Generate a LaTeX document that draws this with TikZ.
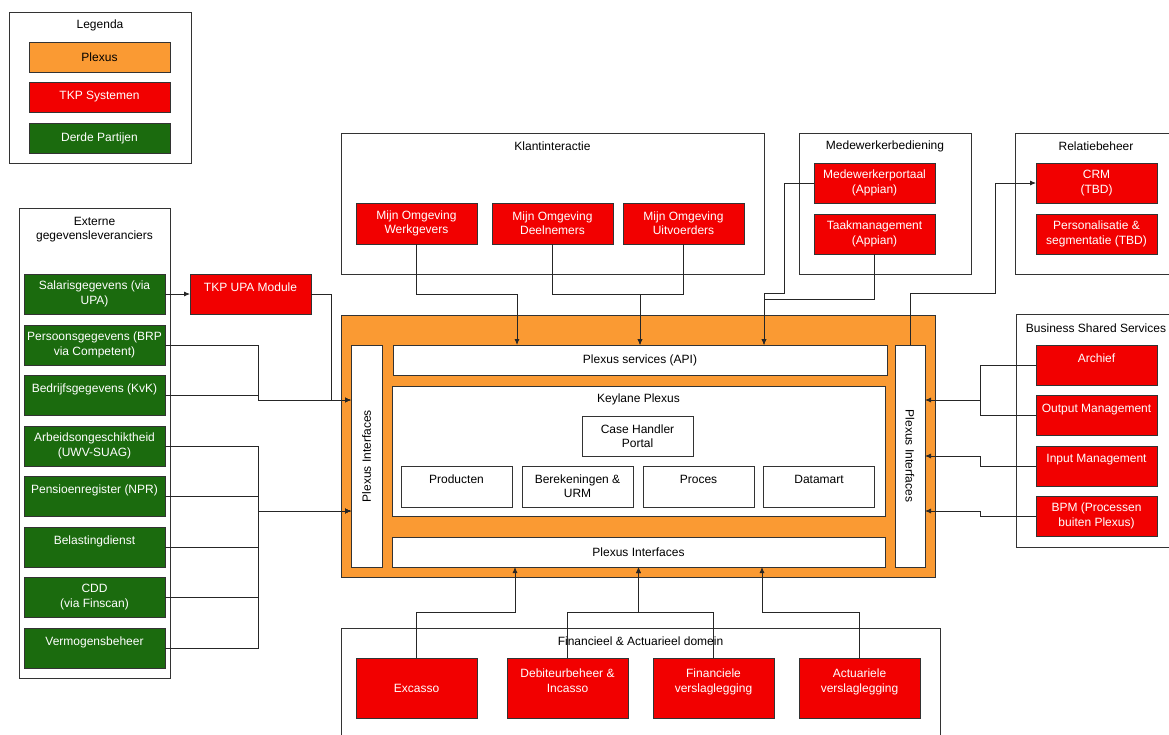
\documentclass[tikz,border=0pt]{standalone}
\usepackage{graphicx}
\usepackage{fontspec}
\setmainfont{Liberation Sans}
\usetikzlibrary{arrows.meta}
\definecolor{oranje}{HTML}{FA9A33}
\definecolor{rood}{HTML}{F20000}
\definecolor{groen}{HTML}{1B6B0E}
\definecolor{rand}{HTML}{333333}

\begin{document}
\begin{tikzpicture}[x=1pt,y=-1pt]
\tikzstyle{lijn}=[->,>={Latex[length=6pt,width=5pt]},draw=black!85,line width=0.8pt]
\tikzset{blok/.style={draw=rand,line width=0.8pt,fill=#1,inner sep=0pt,outer sep=0pt,align=center,font=\fontsize{12}{14.4}\selectfont},
blok/.default={white},
rblok/.style={blok=rood,text=white,minimum width=121pt,minimum height=40pt},
gblok/.style={blok=groen,text=white,minimum width=141pt,minimum height=40pt},
kblok/.style={blok,minimum width=111pt,minimum height=41pt},
groep/.style={draw=rand,line width=0.8pt,fill=white,inner sep=0pt,outer sep=0pt},
titel/.style={font=\fontsize{12}{14.4}\selectfont,align=center,inner sep=0pt}}
\useasboundingbox (0,0) rectangle (1169,734);
\clip (0,0) rectangle (1169,734);
\fill[white] (0,0) rectangle (1169,734);

% legenda
\node[groep,minimum width=182pt,minimum height=151pt] (legenda) at (100,87.5) {};
\node[titel] (legenda-t) at (100,25) {Legenda};
\node[blok=oranje,minimum width=141pt,minimum height=30pt] (leg-plexus) at (99.5,57) {Plexus};
\node[blok=rood,text=white,minimum width=141pt,minimum height=30pt] (leg-tkp) at (99.5,97) {TKP Systemen};
\node[blok=groen,text=white,minimum width=141pt,minimum height=30pt] (leg-derde) at (99.5,138) {Derde Partijen};

% groepen
\node[groep,minimum width=151pt,minimum height=470pt] (extern) at (94.5,443) {};
\node[titel] (extern-t) at (94.5,229.5) {Externe\\gegevensleveranciers};
\node[groep,minimum width=423pt,minimum height=141pt] (klant) at (552.5,203.5) {};
\node[titel] (klant-t) at (552.5,146) {Klantinteractie};
\node[groep,minimum width=172pt,minimum height=141pt] (medewerker) at (885,203.5) {};
\node[titel] (medewerker-t) at (885,146) {Medewerkerbediening};
\node[groep,minimum width=162pt,minimum height=141pt] (relatie) at (1096,203.5) {};
\node[titel] (relatie-t) at (1096,146) {Relatiebeheer};
\node[groep,minimum width=161pt,minimum height=233pt] (bss) at (1096.5,430.5) {};
\node[titel] (bss-t) at (1096,328) {Business Shared Services};
\node[groep,minimum width=599pt,minimum height=122pt] (financieel) at (640.5,689) {};
\node[titel] (financieel-t) at (640.5,641) {Financieel \& Actuarieel domein};

% externe partijen
\node[gblok] (salaris) at (94.5,294) {Salarisgegevens (via\\UPA)};
\node[gblok] (persoons) at (94.5,345) {Persoonsgegevens (BRP\\via Competent)};
\node[gblok] (bedrijf) at (94.5,395) {Bedrijfsgegevens (KvK)\\\mbox{}};
\node[gblok] (arbeid) at (94.5,446) {Arbeidsongeschiktheid\\(UWV-SUAG)};
\node[gblok] (pensioen) at (94.5,496) {Pensioenregister (NPR)\\\mbox{}};
\node[gblok] (belasting) at (94.5,547) {Belastingdienst\\\mbox{}};
\node[gblok] (cdd) at (94.5,597) {CDD\\(via Finscan)};
\node[gblok] (vermogen) at (94.5,648) {Vermogensbeheer\\\mbox{}};
\node[rblok] (upa) at (250.5,294) {TKP UPA Module\\\mbox{}};

\node[rblok,minimum height=41pt] (werkgevers) at (416.5,223.5) {Mijn Omgeving\\Werkgevers};
\node[rblok,minimum height=41pt] (deelnemers) at (552.5,223.5) {Mijn Omgeving\\Deelnemers};
\node[rblok,minimum height=41pt] (uitvoerders) at (683.5,223.5) {Mijn Omgeving\\Uitvoerders};
\node[rblok] (mportaal) at (874.5,183) {Medewerkerportaal\\(Appian)};
\node[rblok] (taak) at (874.5,234) {Taakmanagement\\(Appian)};
\node[rblok] (crm) at (1096.5,183) {CRM\\(TBD)};
\node[rblok] (perso) at (1096.5,234) {Personalisatie \&\\segmentatie (TBD)};

% plexus
\node[blok=oranje,minimum width=594pt,minimum height=262pt] (plexus) at (638,446) {};
\node[blok,minimum width=31pt,minimum height=222pt] (lint) at (366.5,456) {\rotatebox{90}{Plexus Interfaces}};
\node[blok,minimum width=30pt,minimum height=222pt] (rint) at (910,456) {\rotatebox{-90}{Plexus Interfaces}};
\node[blok,minimum width=494pt,minimum height=30pt] (api) at (640,360) {Plexus services (API)};
\node[blok,minimum width=493pt,minimum height=130pt] (keylane) at (638.5,451) {};
\node[titel] (keylane-t) at (638.5,399) {Keylane Plexus};
\node[blok,minimum width=111pt,minimum height=40pt] (case) at (637.5,436) {Case Handler\\Portal};
\node[kblok] (producten) at (456.5,486.5) {Producten\\\mbox{}};
\node[kblok] (berekeningen) at (577.5,486.5) {Berekeningen \&\\URM};
\node[kblok] (proces) at (698.5,486.5) {Proces\\\mbox{}};
\node[kblok] (datamart) at (819,486.5) {Datamart\\\mbox{}};
\node[blok,minimum width=493pt,minimum height=30pt] (bint) at (638.5,552) {Plexus Interfaces};

\node[rblok] (archief) at (1096.5,365) {Archief\\\mbox{}};
\node[rblok] (output) at (1096.5,415.5) {Output Management\\\mbox{}};
\node[rblok] (input) at (1096.5,466) {Input Management\\\mbox{}};
\node[rblok] (bpm) at (1096.5,516) {BPM (Processen\\buiten Plexus)};

\node[rblok,minimum height=60pt] (excasso) at (416.5,688) {Excasso};
\node[rblok,minimum height=60pt] (debiteur) at (567.5,688) {Debiteurbeheer \&\\Incasso\\\mbox{}};
\node[rblok,minimum height=60pt] (financiele) at (713.5,688) {Financiele\\verslaglegging\\\mbox{}};
\node[rblok,minimum height=60pt] (actuariele) at (859.5,688) {Actuariele\\verslaglegging\\\mbox{}};

% verbindingen
\draw[lijn] (salaris) -- (upa);
\draw[lijn] (upa.east) -- ++(20,0) |- (lint.west |- 0,400);
\draw[lijn] (persoons.east) -- ++(93,0) |- (lint.west |- 0,400);
\draw[lijn] (bedrijf.east) -- ++(93,0) |- (lint.west |- 0,400);
\foreach \bron in {arbeid,pensioen,belasting,cdd,vermogen}
  \draw[lijn] (\bron.east) -- ++(93,0) |- (lint.west |- 0,511);

\draw[lijn] (werkgevers.south) -- ++(0,50) -| ([xshift=-123pt]api.north);
\draw[lijn] (deelnemers.south) -- ++(0,50) -| (api.north);
\draw[lijn] (uitvoerders.south) -- ++(0,50) -| (api.north);
\draw[lijn] (mportaal.west) -| (784,293) -| ([xshift=124pt]api.north);
\draw[lijn] (taak.south) -- ++(0,45) -| ([xshift=124pt]api.north);
\draw[lijn] (rint.north) |- (995,293) |- (crm.west);

\coordinate (bss-in) at (980,400);
\draw[lijn,-] (archief.west) -- ++(-56,0) |- (output.west);
\draw[lijn] (bss-in) -- (rint.east |- bss-in);
\draw[lijn] (input.west) -- ++(-56,0) |- (rint.east |- 0,456);
\draw[lijn] (bpm.west) -- ++(-56,0) |- (rint.east |- 0,511);

\draw[lijn] (excasso.north) -- ++(0,-46) -| ([xshift=-123.5pt]bint.south);
\draw[lijn] (debiteur.north) -- ++(0,-46) -| (bint.south);
\draw[lijn] (financiele.north) -- ++(0,-46) -| (bint.south);
\draw[lijn] (actuariele.north) -- ++(0,-46) -| ([xshift=123.5pt]bint.south);

\end{tikzpicture}
\end{document}
